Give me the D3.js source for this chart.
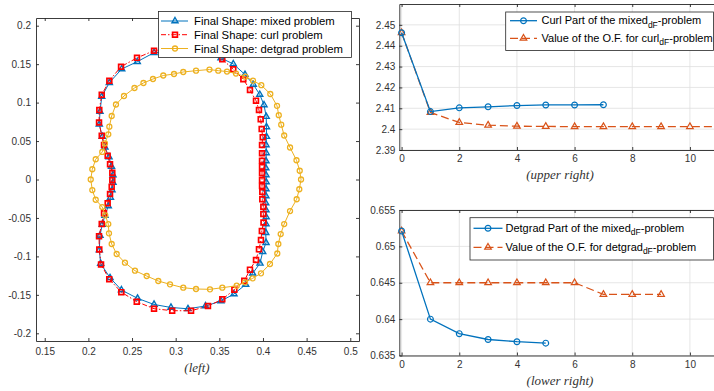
<!DOCTYPE html>
<html><head><meta charset="utf-8">
<script src="https://cdn.jsdelivr.net/npm/d3@7"></script>
<style>body{margin:0;background:#fff}svg{display:block}</style>
</head><body>
<svg id="c" width="714" height="391"></svg>
<script>
// ---------- data: left panel (final shapes) ----------
const mixedX = [.2752,.2560,.2382,.2240,.2153,.2133,.2125,.2159,.2190,.2236,.2265,.2282,.2282,.2271,.2253,.2228,.2190,.2159,.2133,.2125,.2141,.2248,.2379,.2563,.2752,.2946,.3141,.3342,.3519,.3668,.3802,.3882,.3966,.3997,
  .4035,.4032,.4035,.4037,.4035,.4032,.4034,.4035,.4037,.4035,.4033,.4035,.4037,.4035,
  .4040,.4040,.4037,.4012,.3963,.3889,.3794,.3660,.3519,.3342,.3141,.2946];
const mixedY = [.1649,.1532,.1437,.1259,.1077,.0882,.0718,.0557,.0419,.0293,.0169,.0059,-.0039,-.0137,-.0234,-.0345,-.0468,-.0585,-.0728,-.0917,-.1092,-.1278,-.1437,-.1545,-.1625,-.1664,-.1681,-.1645,-.1580,-.1489,-.1365,-.1220,-.1090,-.0939,
  -.0822,-.0692,-.0579,-.0488,-.0397,-.0306,-.0215,-.0124,-.0033,.0058,.0149,.0240,.0345,.0449,
  .0557,.0683,.0817,.0969,.1105,.1235,.1365,.1502,.1580,.1645,.1681,.1664];
const curlX = [.3660,.3534,.3367,.3176,.2966,.2752,.2557,.2374,.2240,.2153,.2125,.2122,.2153,.2179,.2221,.2248,.2274,.2274,.2267,.2248,.2221,.2179,.2153,.2122,.2125,.2145,.2239,.2377,.2554,.2752,.2960,.3176,.3370,.3534,.3672,.3786,.3851,.3920,.3954,.3977,.3987,.4006,.4004,.4004,.3992,.3992,.3989,.3989,.3989,.3989,.3989,.3989,.3989,.3997,.3985,.3974,.3954,.3920,.3851,.3775];
const curlY = [.1433,.1563,.1645,.1710,.1706,.1675,.1582,.1467,.1285,.1101,.0904,.0741,.0570,.0449,.0309,.0198,.0088,-.0007,-.0094,-.0189,-.0309,-.0440,-.0579,-.0739,-.0910,-.1105,-.1296,-.1465,-.1589,-.1680,-.1706,-.1707,-.1645,-.1558,-.1432,-.1317,-.1172,-.1047,-.0908,-.0787,-.0670,-.0559,-.0449,-.0354,-.0257,-.0163,-.0085,-.0007,.0081,.0166,.0244,.0341,.0449,.0549,.0657,.0783,.0904,.1025,.1164,.1303];
const detX = [.2027,.2045,.2084,.2159,.2190,.2228,.2240,.2267,.2316,.2408,.2528,.2631,.2740,.2858,.2981,.3087,.3233,.3387,.3488,.3588,.3691,.3798,.3886,.3981,.4084,.4161,.4181,.4209,.4243,.4310,.4384,.4421,.4436,.4416,.4386,.4310,.4243,.4203,.4176,.4164,.4080,.3977,.3882,.3794,.3699,.3534,.3393,.3233,.3087,.2935,.2801,.2668,.2534,.2419,.2324,.2267,.2236,.2228,.2194,.2159,.2084,.2045];
const detY = [0,.0133,.0263,.0358,.0471,.0588,.0687,.0826,.0975,.1086,.1190,.1255,.1307,.1352,.1372,.1398,.1415,.1430,.1415,.1404,.1378,.1337,.1285,.1226,.1112,.0958,.0836,.0713,.0572,.0416,.0250,.0114,0,-.0127,-.0257,-.0410,-.0579,-.0709,-.0839,-.0962,-.1099,-.1220,-.1285,-.1337,-.1381,-.1407,-.1428,-.1424,-.1407,-.1363,-.1320,-.1255,-.1186,-.1082,-.0969,-.0839,-.0700,-.0579,-.0466,-.0358,-.0263,-.0137];
const leftXTicks = [0.15,0.2,0.25,0.3,0.35,0.4,0.45,0.5];
const leftYTicks = [-0.2,-0.15,-0.1,-0.05,0,0.05,0.1,0.15,0.2];
const leftLegend = ["Final Shape: mixed problem","Final Shape: curl problem","Final Shape: detgrad problem"];

// ---------- data: upper right ----------
const curlPartIter = [0,1,2,3,4,5,6,7];
const curlPart = [2.4462,2.4084,2.4102,2.4107,2.4113,2.4116,2.4116,2.4117];
const ofCurlIter = [0,1,2,3,4,5,6,7,8,9,10,11];
const ofCurl = [2.4462,2.4080,2.4032,2.4019,2.4014,2.4013,2.4012,2.4012,2.4012,2.4012,2.4012,2.4012];
const upperYTicks = [2.39,2.4,2.41,2.42,2.43,2.44,2.45];
// ---------- data: lower right ----------
const detPartIter = [0,1,2,3,4,5];
const detPart = [0.6521,0.6400,0.6380,0.6372,0.6369,0.6367];
const ofDetIter = [0,1,2,3,4,5,6,7,8,9];
const ofDet = [0.6521,0.6450,0.6450,0.6450,0.6450,0.6450,0.6450,0.6434,0.6434,0.6434];
const lowerYTicks = [0.635,0.64,0.645,0.65,0.655];
const iterTicks = [0,2,4,6,8,10];

const BLUE="#0072BD", RED="#FF0000", YEL="#EDB120", ORA="#D95319", AX="#262626", GRID="#dfdfdf";
const svg = d3.select("#c");
const FONT = "Liberation Sans, Arial, sans-serif";

function tri(s){return `M0,${-s}L${s*0.87},${s*0.5}L${-s*0.87},${s*0.5}Z`;}
function sq(s){return `M${-s},${-s}H${s}V${s}H${-s}Z`;}
function marker(g,type,cx,cy,color,size,sw){
  let el;
  if(type==="tri") el=g.append("path").attr("d",tri(size));
  else if(type==="sq") el=g.append("path").attr("d",sq(size));
  else el=g.append("circle").attr("r",size);
  el.attr("transform",`translate(${cx},${cy})`).attr("fill","none").attr("stroke",color).attr("stroke-width",sw);
  return el;
}
function styleAxis(g){
  g.selectAll("path.domain").attr("stroke",AX).attr("stroke-width",0.9);
  g.selectAll(".tick line").attr("stroke",AX).attr("stroke-width",0.9);
  g.selectAll("text").attr("fill","#333").attr("font-family",FONT).attr("font-size","10px");
}

// ================= LEFT PANEL =================
{
  const x = d3.scaleLinear().domain([0.14,0.51]).range([36,359]);
  const y = d3.scaleLinear().domain([-0.21,0.21]).range([341,18]);
  const fmt = d=>String(+d.toFixed(2));
  const g = svg.append("g");
  g.append("rect").attr("x",36).attr("y",18).attr("width",323).attr("height",323).attr("fill","#fff");
  const gb = g.append("g").attr("transform","translate(0,341)").call(d3.axisBottom(x).tickValues(leftXTicks).tickFormat(fmt).tickSizeInner(-3).tickSizeOuter(0).tickPadding(7));
  const gt = g.append("g").attr("transform","translate(0,18)").call(d3.axisTop(x).tickValues(leftXTicks).tickFormat("").tickSizeInner(-3).tickSizeOuter(0));
  const gl = g.append("g").attr("transform","translate(36,0)").call(d3.axisLeft(y).tickValues(leftYTicks).tickFormat(fmt).tickSizeInner(-3).tickSizeOuter(0).tickPadding(5));
  const gr = g.append("g").attr("transform","translate(359,0)").call(d3.axisRight(y).tickValues(leftYTicks).tickFormat("").tickSizeInner(-3).tickSizeOuter(0));
  [gb,gt,gl,gr].forEach(styleAxis);

  const series = [
    {xs:mixedX, ys:mixedY, c:BLUE, m:"tri", ms:3.5, mw:1.4, dash:null, sw:1},
    {xs:curlX, ys:curlY, c:RED, m:"sq", ms:2.4, mw:1.7, dash:"5,2,1.5,2", sw:1},
    {xs:detX, ys:detY, c:YEL, m:"circ", ms:2.5, mw:1.3, dash:null, sw:1}
  ];
  const line = d3.line().x(d=>x(d[0])).y(d=>y(d[1])).curve(d3.curveLinearClosed);
  series.forEach(s=>{
    const pts = s.xs.map((v,i)=>[v,s.ys[i]]);
    g.append("path").attr("d",line(pts)).attr("fill","none").attr("stroke",s.c).attr("stroke-width",s.sw)
      .attr("stroke-dasharray",s.dash);
    const mg = g.append("g");
    pts.forEach(p=>marker(mg,s.m,x(p[0]),y(p[1]),s.c,s.ms,s.mw));
  });

  // legend
  const lg = g.append("g");
  lg.append("rect").attr("x",158.5).attr("y",11.5).attr("width",193).attr("height",46).attr("fill","#fff").attr("stroke",AX).attr("stroke-width",0.8);
  const rows=[21,34.7,48.5];
  series.forEach((s,i)=>{
    lg.append("line").attr("x1",161).attr("x2",188).attr("y1",rows[i]).attr("y2",rows[i]).attr("stroke",s.c).attr("stroke-width",1).attr("stroke-dasharray",s.dash);
    marker(lg,s.m,175,rows[i],s.c,s.ms,s.mw);
    lg.append("text").attr("x",194).attr("y",rows[i]+4).attr("font-family",FONT).attr("font-size","11.3px").attr("fill","#000").text(leftLegend[i]);
  });
  svg.append("text").attr("x",197).attr("y",372).attr("text-anchor","middle").attr("font-family","Liberation Serif, Times New Roman, serif").attr("font-style","italic").attr("font-size","13px").attr("fill","#333").text("(left)");
}

// ================= RIGHT PANELS =================
function rightPanel(opt){
  const x = d3.scaleLinear().domain([-0.08,11]).range([399.3,399.3+11.08*28.83]);
  const y = d3.scaleLinear().domain(opt.yDom).range([opt.bottom,opt.top]);
  const g = svg.append("g");
  const W = 714-399.3+6;
  g.append("rect").attr("x",399.3).attr("y",opt.top).attr("width",W).attr("height",opt.bottom-opt.top).attr("fill","#fff");
  // grid
  iterTicks.forEach(t=>g.append("line").attr("x1",x(t)).attr("x2",x(t)).attr("y1",opt.top).attr("y2",opt.bottom).attr("stroke",GRID).attr("stroke-width",0.8));
  opt.yTicks.forEach(t=>g.append("line").attr("x1",399.3).attr("x2",720).attr("y1",y(t)).attr("y2",y(t)).attr("stroke",GRID).attr("stroke-width",0.8));
  const gb = g.append("g").attr("transform",`translate(0,${opt.bottom})`).call(d3.axisBottom(x).tickValues(iterTicks).tickFormat(d3.format("d")).tickSizeInner(-3).tickSizeOuter(0).tickPadding(5));
  const gt = g.append("g").attr("transform",`translate(0,${opt.top})`).call(d3.axisTop(x).tickValues(iterTicks).tickFormat("").tickSizeInner(-3).tickSizeOuter(0));
  const gl = g.append("g").attr("transform","translate(399.3,0)").call(d3.axisLeft(y).tickValues(opt.yTicks).tickFormat(opt.fmt).tickSizeInner(-3).tickSizeOuter(0).tickPadding(4));
  [gb,gt,gl].forEach(styleAxis);
  const line = d3.line().x(d=>x(d[0])).y(d=>y(d[1]));
  const s1 = opt.s1x.map((v,i)=>[v,opt.s1y[i]]);
  const s2 = opt.s2x.map((v,i)=>[v,opt.s2y[i]]);
  g.append("path").attr("d",line(s2)).attr("fill","none").attr("stroke",ORA).attr("stroke-width",1.3).attr("stroke-dasharray","8,4");
  s2.forEach(p=>marker(g,"tri",x(p[0]),y(p[1]),ORA,3.8,1.2));
  g.append("path").attr("d",line(s1)).attr("fill","none").attr("stroke",BLUE).attr("stroke-width",1.3);
  s1.forEach(p=>marker(g,"circ",x(p[0]),y(p[1]),BLUE,2.9,1.2));
  // legend
  const L = opt.leg;
  g.append("rect").attr("x",L.x).attr("y",L.y).attr("width",713.5-L.x).attr("height",L.h).attr("fill","#fff").attr("stroke",AX).attr("stroke-width",0.8);
  const items=[{c:BLUE,m:"circ",ms:2.9,dash:null,t:L.t1},{c:ORA,m:"tri",ms:3.8,dash:"8,4",t:L.t2}];
  items.forEach((it,i)=>{
    const ry=L.rows[i];
    g.append("line").attr("x1",L.lx1).attr("x2",L.lx2).attr("y1",ry).attr("y2",ry).attr("stroke",it.c).attr("stroke-width",1.3).attr("stroke-dasharray",it.dash);
    marker(g,it.m,(L.lx1+L.lx2)/2,ry,it.c,it.ms,1.2);
    const tx = g.append("text").attr("x",L.tx).attr("y",ry+3.5).attr("font-family",FONT).attr("font-size","11px").attr("fill","#000");
    tx.append("tspan").text(it.t[0]);
    tx.append("tspan").attr("dy",3.5).attr("font-size","8.5px").text("dF");
    tx.append("tspan").attr("dy",-3.5).text("-problem");
  });
  svg.append("text").attr("x",560).attr("y",opt.capY).attr("text-anchor","middle").attr("font-family","Liberation Serif, Times New Roman, serif").attr("font-style","italic").attr("font-size","13px").attr("fill","#333").text(opt.caption);
}

rightPanel({yDom:[2.39,2.46],top:4,bottom:150,yTicks:upperYTicks,fmt:d=>String(+d.toFixed(2)),
  s1x:curlPartIter,s1y:curlPart,s2x:ofCurlIter,s2y:ofCurl,
  leg:{x:505.7,y:12,h:38.5,rows:[20.7,38.3],lx1:510,lx2:537,tx:541.5,t1:["Curl Part of the mixed"],t2:["Value of the O.F. for curl"]},
  caption:"(upper right)",capY:179});
rightPanel({yDom:[0.635,0.655],top:210,bottom:355.5,yTicks:lowerYTicks,fmt:d=>String(+d.toFixed(3)),
  s1x:detPartIter,s1y:detPart,s2x:ofDetIter,s2y:ofDet,
  leg:{x:470,y:217.7,h:42.3,rows:[228.3,247.3],lx1:473.5,lx2:502.5,tx:505.5,t1:["Detgrad Part of the mixed"],t2:["Value of the O.F. for detgrad"]},
  caption:"(lower right)",capY:385});
</script>
</body></html>
